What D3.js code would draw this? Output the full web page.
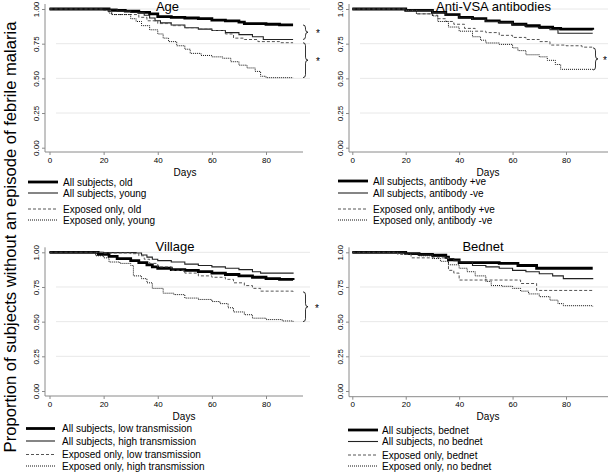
<!DOCTYPE html>
<html>
<head>
<meta charset="utf-8">
<script src="https://cdn.jsdelivr.net/npm/d3@7"></script>
<style>
body { margin: 0; background: #fff; }
text { font-family: "Liberation Sans", Arial, Helvetica, sans-serif; fill: #000; }
</style>
</head>
<body>
<svg id="chart" width="608" height="473"></svg>
<script>
// tick values
const xTicks = [0, 20, 40, 60, 80]
const yTicks = [0, 0.25, 0.5, 0.75, 1]
const yAxisTitle = "Proportion of subjects without an episode of febrile malaria"
const xAxisTitle = "Days"

// panel titles and legend labels
const panelTitles = ["Age", "Anti-VSA antibodies", "Village", "Bednet"]
const ageLabels = ["All subjects, old", "All subjects, young", "Exposed only, old", "Exposed only, young"]
const vsaLabels = ["All subjects, antibody +ve", "All subjects, antibody -ve", "Exposed only, antibody +ve", "Exposed only, antibody -ve"]
const villageLabels = ["All subjects, low transmission", "All subjects, high transmission", "Exposed only, low transmission", "Exposed only, high transmission"]
const bednetLabels = ["All subjects, bednet", "All subjects, no bednet", "Exposed only, bednet", "Exposed only, no bednet"]

// survival curves [day, proportion]
const ageAllOld = [[0,1],[17,1],[22,0.99],[28,0.985],[33,0.975],[37,0.965],[40,0.945],[45,0.94],[50,0.935],[55,0.93],[60,0.92],[65,0.915],[70,0.905],[72,0.895],[80,0.89],[85,0.885],[90,0.885]]
const ageAllYoung = [[0,1],[17,1],[25,0.985],[30,0.975],[35,0.955],[37,0.935],[39,0.915],[41,0.9],[45,0.885],[50,0.865],[55,0.855],[60,0.845],[65,0.83],[70,0.815],[75,0.8],[79,0.78],[90,0.78]]
const ageExpOld = [[0,1],[17,1],[20,0.99],[23,0.96],[30,0.96],[33,0.94],[36,0.915],[40,0.895],[45,0.88],[50,0.865],[55,0.855],[60,0.845],[65,0.82],[68,0.79],[72,0.78],[77,0.765],[85,0.757],[90,0.757]]
const ageExpYoung = [[0,1],[17,1],[22,0.97],[23,0.96],[29,0.96],[30,0.93],[32,0.91],[34,0.88],[37,0.85],[40,0.82],[42,0.79],[44,0.765],[47,0.735],[50,0.71],[52,0.68],[56,0.665],[60,0.655],[64,0.645],[67,0.62],[70,0.595],[73,0.575],[76,0.55],[78,0.515],[80,0.505],[90,0.505]]

const vsaAllPos = [[0,1],[17,1],[20,0.99],[30,0.975],[35,0.96],[40,0.94],[45,0.93],[50,0.915],[55,0.905],[60,0.89],[65,0.88],[70,0.87],[75,0.86],[78,0.855],[90,0.85]]
const vsaAllNeg = [[0,1],[17,1],[20,0.99],[30,0.975],[35,0.955],[40,0.935],[45,0.925],[50,0.91],[55,0.9],[60,0.885],[65,0.87],[70,0.86],[74,0.85],[77,0.825],[90,0.825]]
const vsaExpPos = [[0,1],[17,1],[20,0.99],[24,0.965],[30,0.955],[32,0.93],[35,0.91],[38,0.89],[42,0.86],[46,0.84],[50,0.83],[55,0.81],[60,0.795],[65,0.78],[70,0.765],[74,0.74],[80,0.735],[86,0.725],[90,0.72]]
const vsaExpNeg = [[0,1],[17,1],[20,0.99],[24,0.965],[30,0.95],[32,0.91],[36,0.87],[40,0.84],[45,0.8],[48,0.775],[50,0.755],[55,0.745],[60,0.72],[62,0.7],[65,0.67],[70,0.655],[73,0.63],[76,0.6],[78,0.565],[90,0.56]]

const villageAllLow = [[0,1],[17,1],[18,0.985],[22,0.97],[25,0.955],[30,0.94],[33,0.925],[36,0.91],[38,0.895],[40,0.885],[45,0.875],[50,0.87],[55,0.86],[60,0.85],[65,0.84],[70,0.83],[75,0.82],[80,0.81],[85,0.805],[90,0.8]]
const villageAllHigh = [[0,1],[17,1],[20,0.998],[32,0.995],[34,0.98],[36,0.965],[38,0.95],[40,0.94],[45,0.93],[50,0.915],[55,0.905],[60,0.895],[65,0.885],[70,0.875],[75,0.86],[78,0.85],[90,0.845]]
const villageExpLow = [[0,1],[17,1],[20,0.995],[30,0.99],[33,0.975],[35,0.95],[37,0.92],[40,0.895],[45,0.87],[50,0.85],[55,0.83],[60,0.82],[65,0.805],[68,0.78],[72,0.76],[75,0.74],[78,0.72],[90,0.715]]
const villageExpHigh = [[0,1],[16,1],[17,0.975],[20,0.96],[22,0.93],[26,0.92],[30,0.905],[31,0.83],[34,0.81],[36,0.78],[38,0.74],[42,0.705],[46,0.695],[50,0.67],[55,0.66],[60,0.645],[63,0.63],[66,0.6],[68,0.57],[72,0.55],[75,0.525],[80,0.515],[86,0.505],[90,0.5]]

const bednetAllYes = [[0,1],[16,1],[20,0.99],[25,0.985],[30,0.98],[35,0.965],[36,0.945],[40,0.925],[55,0.92],[62,0.905],[69,0.885],[90,0.885]]
const bednetAllNo = [[0,1],[16,1],[20,0.99],[25,0.98],[30,0.97],[35,0.955],[38,0.94],[40,0.93],[45,0.905],[50,0.895],[55,0.885],[60,0.87],[65,0.86],[70,0.845],[75,0.83],[79,0.81],[90,0.805]]
const bednetExpYes = [[0,1],[16,1],[17,0.985],[22,0.96],[35,0.96],[36,0.87],[38,0.85],[40,0.8],[62,0.8],[63,0.775],[69,0.725],[90,0.725]]
const bednetExpNo = [[0,1],[16,1],[20,0.99],[25,0.975],[30,0.955],[33,0.935],[36,0.91],[40,0.885],[43,0.86],[46,0.83],[50,0.79],[52,0.76],[56,0.755],[60,0.74],[63,0.72],[66,0.7],[70,0.68],[74,0.655],[77,0.63],[79,0.615],[90,0.61]]

// line styles: all old/+ve (thick), all young/-ve (thin), exposed (dashed), exposed (dotted)
const lineStyles = [
	{ width: 2.8, dash: null, color: "#000" },
	{ width: 1.1, dash: null, color: "#222" },
	{ width: 1, dash: "3,2", color: "#555" },
	{ width: 1, dash: "1,1", color: "#111" }
]

const panels = [
	{ title: panelTitles[0], series: [ageAllOld, ageAllYoung, ageExpOld, ageExpYoung], labels: ageLabels,
	  xr: [49.5, 266], yr: [147.7, 9], ax: 45, ay: 152, right: 303, titleX: 167.5, titleY: 10.5, daysX: 185, daysY: 176,
	  legX: [28, 58, 63], legY: [182, 193, 209, 220], braces: [[0, 1], [2, 3]], braceX: 303, starX: 318 },
	{ title: panelTitles[1], series: [vsaAllPos, vsaAllNeg, vsaExpPos, vsaExpNeg], labels: vsaLabels,
	  xr: [352.3, 566], yr: [147.7, 9], ax: 349, ay: 152, right: 608, titleX: 493.5, titleY: 10.5, daysX: 488, daysY: 176,
	  legX: [338, 368, 373], legY: [181, 193, 209, 220], braces: [[2, 3]], braceX: 593, starX: 605 },
	{ title: panelTitles[2], series: [villageAllLow, villageAllHigh, villageExpLow, villageExpHigh], labels: villageLabels,
	  xr: [49.5, 266], yr: [391, 252.3], ax: 45, ay: 396, right: 303, titleX: 175, titleY: 251, daysX: 184, daysY: 420,
	  legX: [26, 55, 62], legY: [428.5, 441, 454.5, 466], braces: [[2, 3]], braceX: 303, starX: 317 },
	{ title: panelTitles[3], series: [bednetAllYes, bednetAllNo, bednetExpYes, bednetExpNo], labels: bednetLabels,
	  xr: [352.3, 566], yr: [391, 252.3], ax: 349, ay: 396.7, right: 608, titleX: 483, titleY: 251, daysX: 488, daysY: 420,
	  legX: [348, 378, 382], legY: [430, 441.5, 455, 466], braces: [], braceX: 0, starX: 0 }
]

const svg = d3.select("#chart")

panels.forEach(p => drawPanel(p))

svg.append("text")
	.attr("transform", "translate(16,237) rotate(-90)")
	.attr("text-anchor", "middle")
	.style("font-size", "16.6px")
	.text(yAxisTitle)

function drawPanel(p) {
	const x = d3.scaleLinear().domain([0, 80]).range(p.xr)
	const y = d3.scaleLinear().domain([0, 1]).range(p.yr)
	const g = svg.append("g")

	// gridlines
	g.selectAll(".grid").data(yTicks.filter(d => d > 0)).enter().append("line")
		.attr("x1", p.ax + 11).attr("x2", p.right + 7)
		.attr("y1", d => y(d)).attr("y2", d => y(d))
		.attr("stroke", "#e8e8e8").attr("stroke-width", 1)

	// axes
	const yAxis = d3.axisLeft(y).tickValues(yTicks).tickSize(3).tickFormat(d3.format(".2f"))
	const yg = g.append("g").attr("transform", "translate(" + p.ax + ",0)").call(yAxis)
	yg.select(".domain").attr("d", "M0," + (y(1) - 5) + "V" + p.ay)
	styleAxis(yg)
	yg.selectAll(".tick text")
		.attr("x", 0).attr("dy", 0)
		.attr("transform", "translate(-6,0) rotate(-90)")
		.attr("text-anchor", "middle")

	const xAxis = d3.axisBottom(x).tickValues(xTicks).tickSize(3).tickSizeOuter(0)
	const xg = g.append("g").attr("transform", "translate(0," + p.ay + ")").call(xAxis)
	xg.select(".domain").attr("d", "M" + p.ax + ",0H" + p.right)
	styleAxis(xg)
	xg.selectAll(".tick text").attr("y", 5).attr("dy", "0.71em")

	// curves
	const line = d3.line().x(d => x(d[0])).y(d => y(d[1])).curve(d3.curveStepAfter)
	p.series.forEach((s, i) => {
		const st = lineStyles[i]
		g.append("path").datum(s)
			.attr("d", line)
			.attr("fill", "none")
			.attr("stroke", st.color)
			.attr("stroke-width", st.width)
			.attr("stroke-dasharray", st.dash)
	})

	// significance braces
	p.braces.forEach(b => {
		const y1 = y(p.series[b[0]][p.series[b[0]].length - 1][1])
		const y2 = y(p.series[b[1]][p.series[b[1]].length - 1][1])
		drawBrace(g, p.braceX, y1, y2)
		g.append("text").attr("x", p.starX).attr("y", (y1 + y2) / 2 + 5)
			.attr("text-anchor", "middle").style("font-size", "10px").text("*")
	})

	// titles
	g.append("text").attr("x", p.titleX).attr("y", p.titleY)
		.attr("text-anchor", "middle").style("font-size", "13px").text(p.title)
	g.append("text").attr("x", p.daysX).attr("y", p.daysY)
		.attr("text-anchor", "middle").style("font-size", "10px").text(xAxisTitle)

	// legend
	const leg = g.append("g")
	p.labels.forEach((lab, i) => {
		const st = lineStyles[i]
		leg.append("line")
			.attr("x1", p.legX[0]).attr("x2", p.legX[1])
			.attr("y1", p.legY[i]).attr("y2", p.legY[i])
			.attr("stroke", st.color).attr("stroke-width", st.width)
			.attr("stroke-dasharray", st.dash)
		leg.append("text").attr("x", p.legX[2]).attr("y", p.legY[i] + 3.5)
			.style("font-size", "10px").text(lab)
	})
}

function styleAxis(ax) {
	ax.select(".domain").attr("stroke", "#8a8a8a").attr("fill", "none")
	ax.selectAll(".tick line").attr("stroke", "#8a8a8a")
	ax.selectAll(".tick text").style("font-size", "8px").attr("fill", "#000")
		.style("font-family", "'Liberation Sans', Arial, sans-serif")
}

function drawBrace(g, bx, y1, y2) {
	const w = 5, r = 3, mid = (y1 + y2) / 2, c = bx + w / 2
	const d = "M" + bx + "," + y1 +
		"Q" + c + "," + y1 + " " + c + "," + (y1 + r) +
		"L" + c + "," + (mid - r) +
		"Q" + c + "," + mid + " " + (bx + w) + "," + mid +
		"Q" + c + "," + mid + " " + c + "," + (mid + r) +
		"L" + c + "," + (y2 - r) +
		"Q" + c + "," + y2 + " " + bx + "," + y2
	g.append("path").attr("d", d).attr("fill", "none").attr("stroke", "#000").attr("stroke-width", 0.8)
}
</script>
</body>
</html>
